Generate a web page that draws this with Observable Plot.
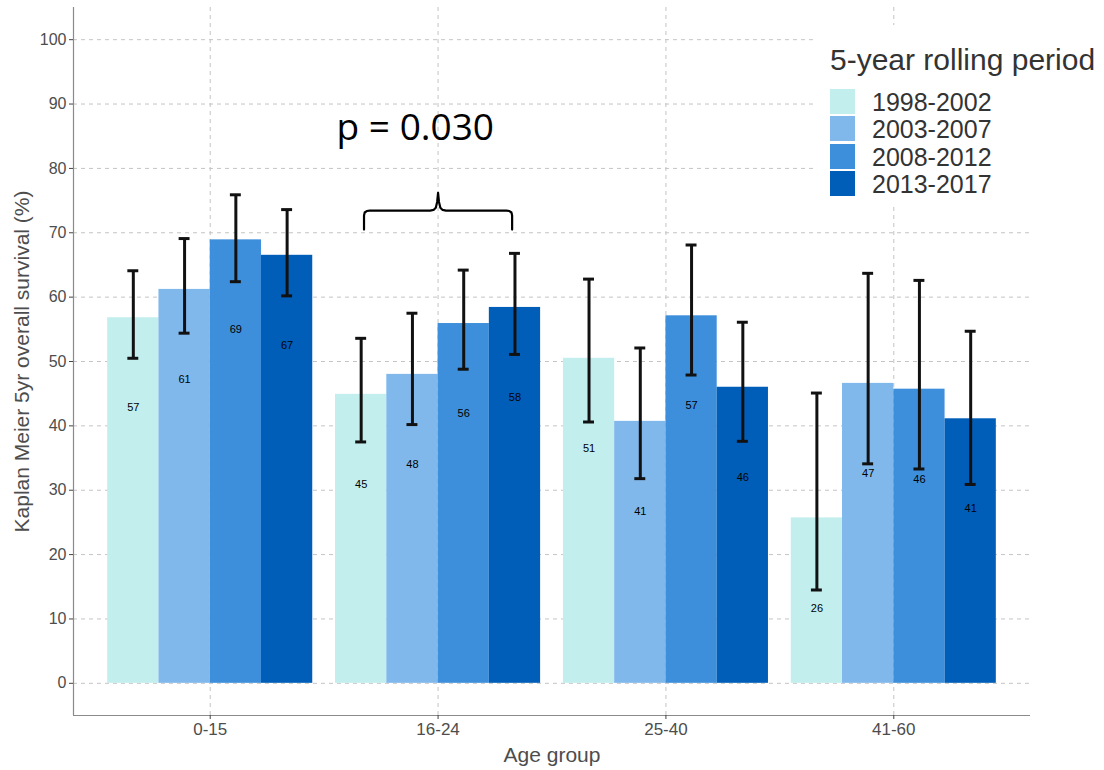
<!DOCTYPE html>
<html>
<head>
<meta charset="utf-8">
<script src="https://cdn.jsdelivr.net/npm/d3@7"></script>
<script src="https://cdn.jsdelivr.net/npm/@observablehq/plot@0.6"></script>
<style>
  html, body { margin: 0; padding: 0; background: #fff; }
  #wrap { position: relative; width: 1104px; height: 770px; font-family: "Liberation Sans", Arial, sans-serif; }
  #legend { position: absolute; left: 815px; top: 25px; width: 289px; height: 180px; background: #fff; }
  .lg-title { position: absolute; left: 15px; top: 17px; font-size: 30px; color: #333; white-space: nowrap; line-height: 36px; }
  .lg-key { position: absolute; left: 15px; width: 25px; height: 25px; }
  .lg-lab { position: absolute; left: 57px; font-size: 25px; color: #333; line-height: 25px; white-space: nowrap; }
</style>
</head>
<body>
<div id="wrap"><div id="chart"></div><div id="legend"></div></div>
<script>
// ---- data ----
const groups = ["0-15", "16-24", "25-40", "41-60"];
const periods = ["1998-2002", "2003-2007", "2008-2012", "2013-2017"];
const colors = ["#c3eeee", "#80b8ec", "#3d8fdb", "#005eb8"];
// Kaplan Meier 5yr OS (%) per age group, periods in order
const survival = [
  [56.8, 61.2, 68.9, 66.5],
  [44.9, 48.0, 55.9, 58.4],
  [50.5, 40.7, 57.1, 46.0],
  [25.7, 46.6, 45.7, 41.1]
];
const lowerCI = [
  [50.5, 54.4, 62.4, 60.2],
  [37.5, 40.2, 48.8, 51.1],
  [40.6, 31.8, 47.9, 37.6],
  [14.5, 34.1, 33.3, 30.9]
];
const upperCI = [
  [64.1, 69.1, 75.9, 73.6],
  [53.6, 57.5, 64.2, 66.8],
  [62.8, 52.1, 68.1, 56.1],
  [45.1, 63.7, 62.6, 54.7]
];
const barLabels = [
  [57, 61, 69, 67],
  [45, 48, 56, 58],
  [51, 41, 57, 46],
  [26, 47, 46, 41]
];
const yTicks = [0, 10, 20, 30, 40, 50, 60, 70, 80, 90, 100];
const pText = "p = 0.030";

// ---- layout of grouped bars (dodge within group) ----
const groupWidth = 0.9, barW = groupWidth / periods.length;
const rows = [];
groups.forEach((g, gi) => periods.forEach((p, pi) => {
  const x1 = (gi + 1) - groupWidth / 2 + pi * barW;
  rows.push({group: g, period: p, x1, x2: x1 + barW, xc: x1 + barW / 2,
    value: survival[gi][pi], lo: lowerCI[gi][pi], hi: upperCI[gi][pi], label: barLabels[gi][pi]});
}));
const capHalf = 0.024;

// brace over 16-24 group (annotation shape, relative to group centre)
const braceHalf = [[-0.325, 70.5], [-0.325, 72.7], [-0.322, 73.15], [-0.313, 73.38], [-0.30, 73.45],
  [-0.035, 73.45], [-0.02, 73.55], [-0.01, 73.9], [-0.004, 74.8], [0, 76.2]];
const braceCentre = 2;
const brace = braceHalf.map(([dx, y]) => ({x: braceCentre + dx, y}))
  .concat(braceHalf.slice().reverse().slice(1).map(([dx, y]) => ({x: braceCentre - dx, y})));

const gridStyle = {stroke: "#c4c4c4", strokeDasharray: "4,4", strokeWidth: 1};

const chart = Plot.plot({
  width: 1104, height: 770,
  marginLeft: 73, marginRight: 74, marginTop: 7, marginBottom: 55,
  x: {domain: [0.4, 4.6]},
  y: {domain: [-5, 105]},
  color: {domain: periods, range: colors},
  style: {fontFamily: "Liberation Sans, Arial, sans-serif", background: "white"},
  marks: [
    Plot.ruleY(yTicks, gridStyle),
    Plot.ruleX([1, 2, 3, 4], gridStyle),
    Plot.rect(rows, {x1: "x1", x2: "x2", y1: 0, y2: "value", fill: "period"}),
    Plot.ruleX(rows, {x: "xc", y1: "lo", y2: "hi", stroke: "#111", strokeWidth: 3}),
    Plot.ruleY(rows, {y: "hi", x1: d => d.xc - capHalf, x2: d => d.xc + capHalf, stroke: "#111", strokeWidth: 3}),
    Plot.ruleY(rows, {y: "lo", x1: d => d.xc - capHalf, x2: d => d.xc + capHalf, stroke: "#111", strokeWidth: 3}),
    Plot.text(rows, {x: "xc", y: d => d.value - 14, text: "label", fontSize: 11, fill: "#000"}),
    Plot.line(brace, {x: "x", y: "y", stroke: "#000", strokeWidth: 2.2}),
    Plot.text([pText], {x: 1.9, y: 86.3, text: d => d, fontSize: 37, fontFamily: "Open Sans", fill: "#000"}),
    Plot.ruleX([0.4], {y1: -5, y2: 105, stroke: "#8a8a8a", strokeWidth: 1.2}),
    Plot.ruleY([-5], {x1: 0.4, x2: 4.6, stroke: "#8a8a8a", strokeWidth: 1.2}),
    Plot.axisX({ticks: [1, 2, 3, 4], tickFormat: i => groups[i - 1], tickSize: 4, tickPadding: 3,
      fontSize: 17, stroke: "#444", fill: "#4d4d4d", label: null}),
    Plot.axisY({ticks: yTicks, tickSize: 4, tickPadding: 3, fontSize: 16, stroke: "#444", fill: "#4d4d4d", label: null}),
    Plot.text(["Age group"], {frameAnchor: "bottom", dy: 40, text: d => d, fontSize: 21, fill: "#4d4d4d",
      textAnchor: "middle", lineAnchor: "middle"}),
    Plot.text(["Kaplan Meier 5yr overall survival (%)"], {frameAnchor: "left", dx: -51, rotate: -90, text: d => d,
      fontSize: 21, fill: "#4d4d4d", textAnchor: "middle", lineAnchor: "middle"})
  ]
});
document.getElementById("chart").appendChild(chart);

// ---- legend (inside plot area, top right) ----
const legend = document.getElementById("legend");
const title = document.createElement("div");
title.className = "lg-title";
title.textContent = "5-year rolling period";
legend.appendChild(title);
periods.forEach((p, i) => {
  const top = 64 + i * 27.3;
  const key = document.createElement("div");
  key.className = "lg-key";
  key.style.top = top + "px";
  key.style.background = colors[i];
  legend.appendChild(key);
  const lab = document.createElement("div");
  lab.className = "lg-lab";
  lab.style.top = (top + 1) + "px";
  lab.textContent = p;
  legend.appendChild(lab);
});
</script>
</body>
</html>
